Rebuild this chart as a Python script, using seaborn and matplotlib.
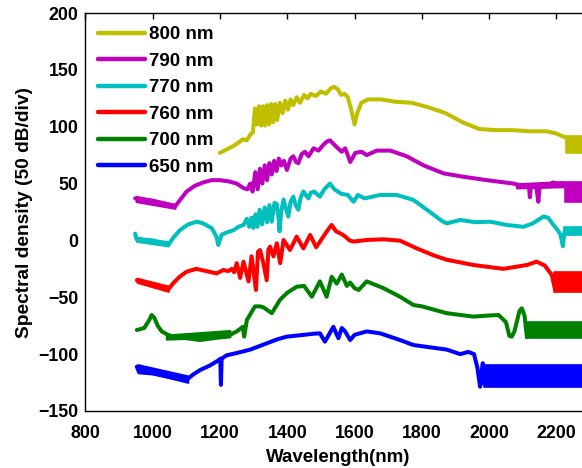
import matplotlib
matplotlib.use('Agg')
import numpy as np
import pandas as pd
import matplotlib.pyplot as plt
import seaborn as sns

# supercontinuum spectra for different pump wavelengths, offset by 50 dB/div
labels = ['800 nm', '790 nm', '770 nm', '760 nm', '700 nm', '650 nm']
colors = ['#bfbf00', '#bf00bf', '#00bfbf', '#ff0000', '#008000', '#0000ff']

wl_800 = [1200, 1220, 1240, 1255, 1268, 1280, 1290, 1298, 1304, 1310, 1316, 1322, 1328, 1334, 1340,
          1346, 1352, 1358, 1364, 1370, 1378, 1386, 1394, 1402, 1410, 1418, 1428, 1438, 1450, 1460,
          1470, 1485, 1500, 1515, 1530, 1540, 1550, 1560, 1570, 1580, 1590, 1600, 1608, 1620, 1640,
          1680, 1720, 1770, 1820, 1870, 1920, 1970, 2020, 2070, 2120, 2170, 2200, 2215, 2230]
sd_800 = [77, 80, 83, 86, 89, 88, 93, 95, 116, 102, 118, 101, 118, 101, 119,
          102, 120, 104, 120, 106, 121, 112, 123, 115, 124, 119, 126, 121, 128, 125,
          129, 127, 131, 129, 134, 135, 133, 128, 129, 126, 115, 102, 112, 121, 124,
          124, 122, 121, 117, 112, 104, 98, 97, 97, 96, 96, 94, 92, 90]

wl_790 = [948, 1000, 1040, 1067, 1080, 1101, 1125, 1150, 1175, 1200, 1225, 1250, 1270, 1282, 1290,
          1297, 1305, 1312, 1319, 1326, 1333, 1340, 1347, 1354, 1361, 1368, 1375, 1382, 1390, 1399,
          1410, 1418, 1426, 1433, 1443, 1453, 1463, 1478, 1493, 1507, 1518, 1527, 1537, 1547, 1562,
          1572, 1580, 1587, 1595, 1602, 1621, 1636, 1666, 1706, 1755, 1805, 1864, 1923, 1993, 2072,
          2100, 2118, 2121, 2124, 2140, 2146, 2150, 2170, 2190, 2210, 2225]
sd_790 = [37, 35, 32, 30, 35, 43, 48, 51, 53, 53, 52, 50, 46, 45, 50,
          43, 60, 45, 63, 50, 66, 53, 68, 58, 70, 61, 72, 66, 70, 62,
          72, 74, 69, 68, 76, 78, 74, 81, 79, 84, 87, 88, 85, 82, 78,
          81, 75, 69, 73, 77, 78, 75, 79, 79, 74, 66, 59, 56, 53, 50,
          48, 48, 38, 48, 47, 34, 47, 48, 51, 49, 48]

wl_770 = [948, 952, 1000, 1047, 1060, 1081, 1105, 1131, 1150, 1176, 1190, 1195, 1205, 1220, 1240,
          1255, 1270, 1280, 1287, 1294, 1299, 1306, 1311, 1318, 1325, 1333, 1340, 1347, 1354, 1362,
          1369, 1374, 1377, 1382, 1389, 1396, 1403, 1410, 1418, 1425, 1433, 1440, 1448, 1455, 1463,
          1470, 1480, 1497, 1510, 1527, 1540, 1560, 1580, 1597, 1610, 1630, 1676, 1725, 1775, 1824,
          1860, 1874, 1914, 1960, 2003, 2052, 2102, 2130, 2161, 2175, 2190, 2206, 2212, 2219, 2224]
sd_770 = [6, 1, 0, -4, 2, 9, 14, 16.5, 15, 10.7, 3, -4, 5, 7, 9,
          12, 13.6, 19, 12, 20, 11, 23, 12, 27, 14, 29, 16, 31, 16.5, 33,
          32, 20, 8, 25, 36, 28, 21, 34, 38.5, 31, 27, 38, 43, 40, 37,
          42, 43, 38.5, 45, 50, 45, 41, 40, 34, 40, 37, 40, 40, 35.6, 25,
          17, 15, 18, 16, 16.5, 13.6, 12, 15, 21, 20, 14, 8, 5, -5, 8]

wl_760 = [953, 1000, 1047, 1060, 1080, 1101, 1130, 1160, 1190, 1210, 1225, 1235, 1242, 1250, 1260,
          1270, 1285, 1294, 1307, 1313, 1319, 1329, 1339, 1344, 1349, 1359, 1369, 1379, 1389, 1408,
          1428, 1448, 1468, 1486, 1507, 1520, 1532, 1545, 1557, 1570, 1585, 1597, 1636, 1686, 1735,
          1785, 1834, 1874, 1953, 2042, 2112, 2141, 2165, 2186, 2196]
sd_760 = [-35, -39, -43, -38, -32, -27.5, -25, -27, -29, -26, -27, -25, -28, -20, -33,
          -18.7, -36, -14, -43.6, -10, -8.4, -20, -35, -8, -5.5, -14, -2.5, -20, 0.4, -8.4,
          3.3, -7, 4.8, -6, 3.3, 9, 13.6, 8, 6.3, 4, 0, -1, 0.4, 1, -0.2,
          -7, -13, -17, -21.6, -25, -21.6, -18.7, -22, -30.4, -43.6]

wl_700 = [953, 975, 990, 997, 1005, 1015, 1027, 1045, 1062, 1100, 1141, 1180, 1220, 1250, 1268,
          1272, 1280, 1304, 1320, 1330, 1354, 1379, 1400, 1428, 1450, 1473, 1497, 1517, 1532, 1547,
          1562, 1577, 1587, 1600, 1612, 1636, 1686, 1735, 1775, 1800, 1874, 1953, 2000, 2028, 2050,
          2060, 2067, 2075, 2090, 2097, 2105, 2112]
sd_700 = [-78.8, -77, -70, -65.6, -68, -75, -80, -83, -84.6, -86, -87.6, -86, -84.6, -80, -76,
          -84.6, -70, -58, -58, -59, -64, -52, -46, -40.7, -40, -49.5, -36, -49.5, -32, -38,
          -30, -40, -37, -42, -43.6, -36, -42, -49.5, -56.8, -58, -64, -67, -66, -65.6, -72,
          -84, -84.6, -80, -62, -59.7, -66, -85]

wl_650 = [953, 960, 1000, 1050, 1101, 1120, 1141, 1170, 1198, 1201, 1203, 1205, 1220, 1250, 1290,
          1339, 1370, 1399, 1450, 1480, 1497, 1512, 1537, 1552, 1562, 1572, 1587, 1600, 1636, 1676,
          1735, 1775, 1874, 1914, 1938, 1955, 1965, 1973, 1978, 1981, 1984]
sd_650 = [-111, -116, -117, -120, -122.7, -118, -114, -110, -105, -104, -127, -104, -101, -99, -96,
          -90.5, -87, -84.6, -83, -82, -81.7, -89, -76, -86, -77, -80, -87.6, -83, -80, -81.7,
          -87.6, -92, -96, -100, -98, -100, -112, -128.6, -115, -108, -126]

# noisy stretches as envelopes: (x start, x end, low start, low end, high start, high end)
noise_800 = [(2228, 2276, 77, 77, 92, 92)]
noise_790 = [(950, 1067, 34, 28, 39, 32), (2080, 2220, 46, 47, 50, 52), (2225, 2276, 34, 34, 51, 51)]
noise_770 = [(952, 1047, -1, -5, 3, -1), (2222, 2276, 5, 5, 12, 12)]
noise_760 = [(953, 1047, -37, -45, -33, -40), (2194, 2276, -45, -45, -27.5, -27.5)]
noise_700 = [(1040, 1230, -87, -85, -83, -79), (2110, 2276, -86, -86, -71.5, -71.5)]
noise_650 = [(955, 1105, -114, -125, -109, -119), (1984, 2276, -128.6, -128.6, -109.5, -109.5)]

wls = [wl_800, wl_790, wl_770, wl_760, wl_700, wl_650]
sds = [sd_800, sd_790, sd_770, sd_760, sd_700, sd_650]
noises = [noise_800, noise_790, noise_770, noise_760, noise_700, noise_650]

frames = []
for lab, w, s in zip(labels, wls, sds):
    frames.append(pd.DataFrame({'wl': w, 'sd': s, 'pump': lab}))
df = pd.concat(frames, ignore_index=True)

sns.set_theme(style='white')
plt.rcParams['font.family'] = ['Liberation Sans', 'DejaVu Sans']
plt.rcParams['font.weight'] = 'bold'
plt.rcParams['axes.labelweight'] = 'bold'
plt.rcParams['text.color'] = 'black'
plt.rcParams['axes.labelcolor'] = 'black'

fig = plt.figure(figsize=(5.82, 4.68), dpi=100)
ax = fig.add_axes([0.1466, 0.1218, 0.8674, 0.8504])

pal = dict(zip(labels, colors))
sns.lineplot(data=df, x='wl', y='sd', hue='pump', hue_order=labels, palette=pal,
             estimator=None, sort=False, lw=2.9, ax=ax)

for lab, nz in zip(labels, noises):
    for x0, x1, lo0, lo1, hi0, hi1 in nz:
        ax.fill_between([x0, x1], [lo0, lo1], [hi0, hi1], color=pal[lab], lw=1.2)

ax.set_xlim(800, 2300)
ax.set_ylim(-150, 200)
ax.set_xticks(range(800, 2201, 200))
ax.set_yticks(range(-150, 201, 50))
ax.tick_params(direction='in', length=4, width=1, top=True, right=True,
               labelsize=12.8, colors='black')
ax.tick_params(axis='x', pad=10)
ax.tick_params(axis='y', pad=5)
for sp in ax.spines.values():
    sp.set_color('black')
    sp.set_linewidth(1)
ax.set_xlabel('Wavelength(nm)', fontsize=13.5, labelpad=5)
ax.set_ylabel('Spectral density (50 dB/div)', fontsize=13.8, labelpad=4)

h, l = ax.get_legend_handles_labels()
for hh in h:
    hh.set_linewidth(3.2)
ax.legend(h, l, loc='upper left', frameon=False, fontsize=13.5, handlelength=2.5,
          handletextpad=0.2, labelspacing=0.5, borderaxespad=0.4, borderpad=0.3)

fig.savefig('out.png', dpi=100)
